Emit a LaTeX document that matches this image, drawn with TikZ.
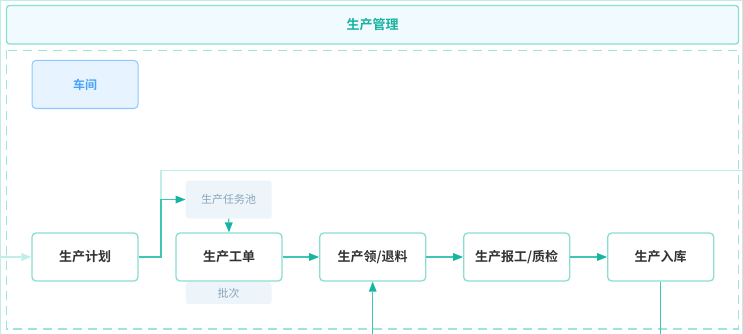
\documentclass[tikz,border=0pt]{standalone}
\usepackage{fontspec}
\newfontfamily\cjk{Noto Sans CJK SC}
\newfontfamily\cjkb{Noto Sans CJK SC Bold}
\usetikzlibrary{arrows.meta}
\definecolor{tealline}{HTML}{3FC6B3}
\definecolor{tealhead}{HTML}{16B5A2}
\definecolor{tealbord}{HTML}{8ADDD1}
\definecolor{tealdash}{HTML}{9FE4DA}
\definecolor{teallight}{HTML}{BDEEE7}
\definecolor{hdrfill}{HTML}{F1FAFE}
\definecolor{hdrtext}{HTML}{17B3A0}
\definecolor{wsfill}{HTML}{E7F4FF}
\definecolor{wsbord}{HTML}{8CC8FF}
\definecolor{wstext}{HTML}{4AA3FA}
\definecolor{subfill}{HTML}{EDF5FB}
\definecolor{subtext}{HTML}{8AA6BD}
\definecolor{boxtext}{HTML}{333333}
\tikzset{
  x=1pt,y=-1pt,
  procbox/.style={draw=tealbord,line width=1.3pt,rounded corners=4pt,fill=white,
    minimum width=106pt,minimum height=48pt,inner sep=0pt,
    font=\cjkb\fontsize{13}{13}\selectfont,text=boxtext},
  subbox/.style={fill=subfill,rounded corners=3pt,minimum width=86pt,inner sep=0pt,
    font=\cjk\fontsize{11}{11}\selectfont,text=subtext},
  flow/.style={draw=tealline,line width=1.2pt,-{Triangle[length=10pt,width=8pt,fill=tealhead,line width=0pt]}},
  faint/.style={draw=teallight,line width=1.2pt},
}
\begin{document}
\begin{tikzpicture}
\useasboundingbox (0,0) rectangle (743,334);
% outer frame (clipped)
\draw[teallight,line width=1pt] (0.5,0.5) -- (742.5,0.5);
\draw[teallight,line width=1pt] (0.5,0.5) -- (0.5,334);
\draw[teallight,line width=1pt] (742.5,0.5) -- (742.5,334);
% header
\node[draw=tealbord,fill=hdrfill,line width=1.3pt,rounded corners=3pt,
  minimum width=732pt,minimum height=38.5pt,inner sep=0pt,
  font=\cjkb\fontsize{13}{13}\selectfont,text=hdrtext] (hdr) at (372.5,24.8) {生产管理};
% dashed container
\draw[tealdash,line width=1.4pt,dash pattern=on 9pt off 6pt] (6.7,50.5) rectangle (738.5,328.8);
% workshop
\node[draw=wsbord,fill=wsfill,line width=1pt,rounded corners=4pt,
  minimum width=106pt,minimum height=48pt,inner sep=0pt,
  font=\cjkb\fontsize{12}{12}\selectfont,text=wstext] (ws) at (85,84.5) {车间};
% process boxes
\node[procbox] (plan) at (85,257) {生产计划};
\node[procbox] (wo) at (229,257) {生产工单};
\node[procbox] (mat) at (372.7,257) {生产领/退料};
\node[procbox] (rep) at (516.7,257) {生产报工/质检};
\node[procbox] (inb) at (660.7,257) {生产入库};
\node[subbox,minimum height=38pt] (pool) at (228.7,199.5) {生产任务池};
\node[subbox,minimum height=22pt] (batch) at (228.7,293.2) {批次};
% connectors
\coordinate (lin) at (0,257);
\coordinate (j1) at (161,257);
\coordinate (j2) at (161,199.5);
\coordinate (j3) at (161,170.3);
\coordinate (rout) at (743,170.3);
\coordinate (bin) at (372.7,334);
\coordinate (bout) at (660.7,334);
\draw[teallight,line width=1.2pt,-{Triangle[length=10pt,width=8pt,fill=teallight,line width=0pt]}] (lin) -- (plan.west);
\draw[faint] (j2) -- (j3) -- (rout);
\draw[flow] (plan.east) -- (j1) -- (j2) -- (pool.west);
\draw[flow] (pool.south) -- (wo.north);
\draw[flow] (wo.east) -- (mat.west);
\draw[flow] (mat.east) -- (rep.west);
\draw[flow] (rep.east) -- (inb.west);
\draw[flow] (bin) -- (mat.south);
\draw[draw=tealline,line width=1.2pt] (inb.south) -- (bout);
\end{tikzpicture}
\end{document}
